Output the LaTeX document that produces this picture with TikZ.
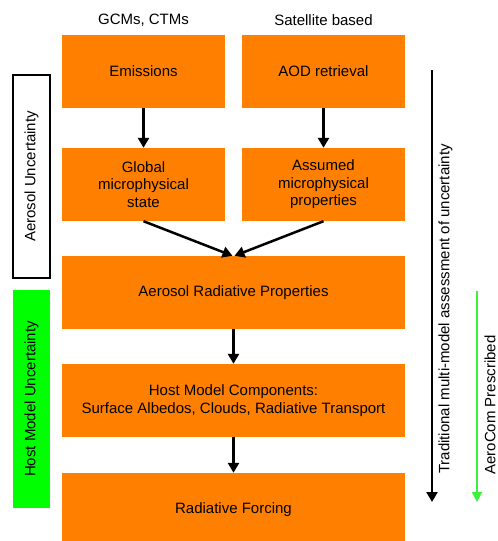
\documentclass[tikz,border=0pt]{standalone}
\usepackage{fontspec}
\setmainfont{Liberation Sans}
\usepackage{xcolor}
\definecolor{aeorange}{RGB}{255,128,0}
\definecolor{aegreen}{RGB}{0,255,0}
\definecolor{aearrowgreen}{RGB}{60,240,60}
\usetikzlibrary{arrows.meta, positioning}
\newcommand{\aefont}{\fontsize{15}{17.5}\selectfont}

\tikzset{
  stage/.style={fill=aeorange, minimum width=163pt, minimum height=73pt,
    inner sep=0pt, align=center, font=\aefont},
  widestage/.style={stage, minimum width=343pt},
  flowarrow/.style={line width=2.5pt, -{Triangle[width=11pt,length=10pt]}},
  sidebox/.style={rotate=90, minimum height=37pt, inner sep=0pt, font=\aefont},
  sidetext/.style={rotate=90, inner sep=0pt, font=\aefont}
}

\begin{document}
\begin{tikzpicture}[x=1pt, y=-1pt]
  \useasboundingbox (0,0) rectangle (498,541);

  % Column headers
  \node[font=\aefont] (gcmlbl) at (143.5,20) {GCMs, CTMs};
  \node[font=\aefont] (satlbl) at (323.5,20) {Satellite based};

  % Top row
  \node[stage] (emis) at (143.5,71.5) {Emissions};
  \node[stage] (aod) at (323.5,71.5) {AOD retrieval};

  % Second row
  \node[stage] (glob) at (143.5,184.5) {Global\\microphysical\\state};
  \node[stage] (assm) at (323.5,184.5) {Assumed\\microphysical\\properties};

  % Wide rows
  \node[widestage] (arp) at (233.5,292.5) {Aerosol Radiative Properties};
  \node[widestage] (host) at (233.5,400.5)
       {Host Model Components:\\Surface Albedos, Clouds, Radiative Transport};
  \node[widestage] (forc) at (233.5,509.5) {Radiative Forcing};

  % Flow arrows
  \draw[flowarrow] (emis) -- (glob);
  \draw[flowarrow] (aod) -- (assm);
  \draw[flowarrow] (glob.south) -- ([xshift=-1pt]arp.north);
  \draw[flowarrow] (assm.south) -- ([xshift=1pt]arp.north);
  \draw[flowarrow] (arp) -- (host);
  \draw[flowarrow] (host) -- (forc);

  % Left side bars
  \node[sidebox, draw, line width=1.5pt, minimum width=203pt] (aerunc) at (31.5,176.5)
       {Aerosol Uncertainty};
  \node[sidebox, fill=aegreen, minimum width=218pt] (hostunc) at (31.5,399)
       {Host Model Uncertainty};

  % Right side arrows
  \coordinate (tradtop) at (432,70);
  \coordinate (tradend) at (432,502);
  \draw[line width=2.5pt, -{Triangle[width=11pt,length=10pt]}] (tradtop) -- (tradend);
  \node[sidetext] (tradlbl) at (445.5,309) {Traditional multi-model assessment of uncertainty};

  \coordinate (acomtop) at (477,291);
  \coordinate (acomend) at (477,502);
  \draw[aearrowgreen, line width=1.8pt, -{Triangle[width=10pt,length=10pt]}] (acomtop) -- (acomend);
  \node[sidetext] (acomlbl) at (490,405) {AeroCom Prescribed};
\end{tikzpicture}
\end{document}
